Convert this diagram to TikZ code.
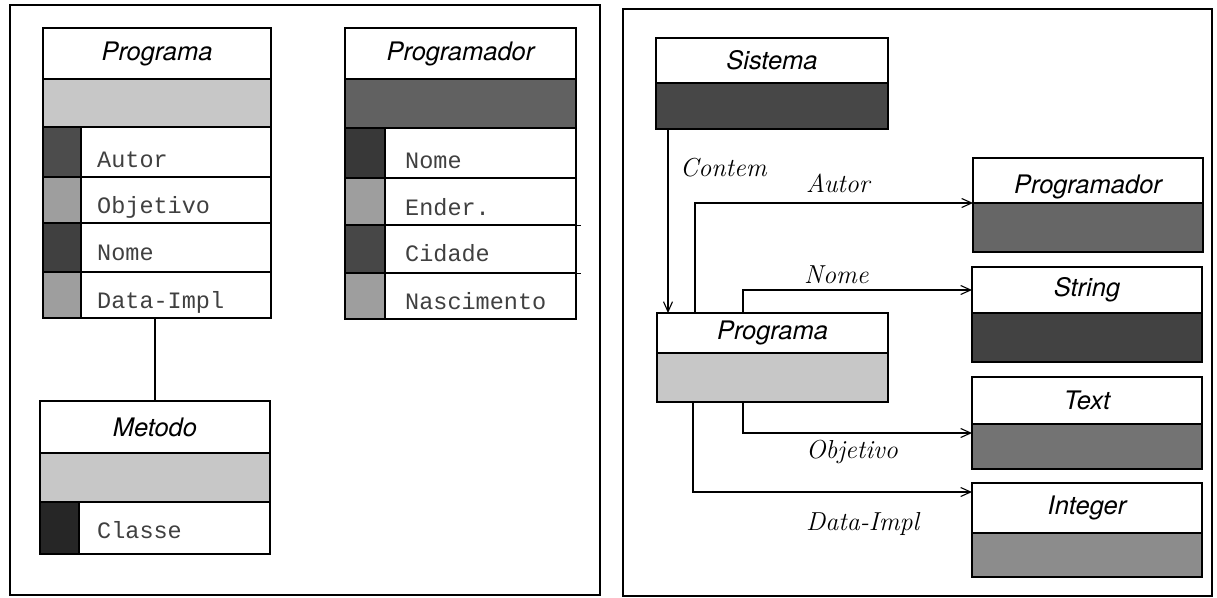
\documentclass[tikz,border=0pt]{standalone}
\usepackage{fontspec}
\newfontfamily\titlefont{TeX Gyre Heros}
\newfontfamily\fieldfont{Liberation Mono}
\usetikzlibrary{arrows.meta}

\tikzset{
  part/.style={draw, line width=1.6pt, anchor=north west, inner sep=0pt, outer sep=0pt},
  ctitle/.style={part, fill=white, font=\titlefont\itshape\fontsize{25.5}{25.5}\selectfont},
  band/.style={part, fill=#1},
  swatch/.style={part, fill=#1},
  field/.style={part, fill=white},
  fieldtext/.style={anchor=base west, inner sep=0pt, text=black!75,
    font=\fieldfont\fontsize{23.5}{23.5}\selectfont},
  rel/.style={anchor=base west, inner sep=0pt, font=\itshape\fontsize{26}{26}\selectfont},
  arr/.style={line width=1.1pt, -{Straight Barb[length=10pt,width=9pt,line width=1.1pt]}},
  link/.style={line width=1.1pt},
  panel/.style={line width=1.2pt},
}

\begin{document}
\begin{tikzpicture}[x=1pt, y=-1pt]
\useasboundingbox (0,0) rectangle (1217,597);

% ---------- left panel: class schemas ----------
\draw[panel] (10,5) rectangle (600,595);

% Programa
\node[ctitle, minimum width=228pt, minimum height=51pt] (plT) at (43,28) {Programa};
\node[band=black!22, minimum width=228pt, minimum height=48pt] (plB) at (43,79) {};
\node[swatch=black!70, minimum width=38pt, minimum height=50pt] (plS1) at (43,127) {};
\node[field, minimum width=190pt, minimum height=50pt] (plF1) at (81,127) {};
\node[fieldtext] at ([xshift=16pt,yshift=10pt]plF1.south west) {Autor};
\node[swatch=black!38, minimum width=38pt, minimum height=46pt] (plS2) at (43,177) {};
\node[field, minimum width=190pt, minimum height=46pt] (plF2) at (81,177) {};
\node[fieldtext] at ([xshift=16pt,yshift=10pt]plF2.south west) {Objetivo};
\node[swatch=black!75, minimum width=38pt, minimum height=49pt] (plS3) at (43,223) {};
\node[field, minimum width=190pt, minimum height=49pt] (plF3) at (81,223) {};
\node[fieldtext] at ([xshift=16pt,yshift=12pt]plF3.south west) {Nome};
\node[swatch=black!38, minimum width=38pt, minimum height=46pt] (plS4) at (43,272) {};
\node[field, minimum width=190pt, minimum height=46pt] (plF4) at (81,272) {};
\node[fieldtext] at ([xshift=16pt,yshift=10pt]plF4.south west) {Data-Impl};

% Programador
\node[ctitle, minimum width=231pt, minimum height=51pt] (pdT) at (345,28) {Programador};
\node[band=black!62, minimum width=231pt, minimum height=49pt] (pdB) at (345,79) {};
\node[swatch=black!78, minimum width=40pt, minimum height=50pt] (pdS1) at (345,128) {};
\node[field, minimum width=191pt, minimum height=50pt] (pdF1) at (385,128) {};
\node[fieldtext] at ([xshift=20pt,yshift=10pt]pdF1.south west) {Nome};
\node[swatch=black!38, minimum width=40pt, minimum height=47pt] (pdS2) at (345,178) {};
\node[field, minimum width=191pt, minimum height=47pt] (pdF2) at (385,178) {};
\node[fieldtext] at ([xshift=20pt,yshift=10pt]pdF2.south west) {Ender.};
\node[swatch=black!72, minimum width=40pt, minimum height=48pt] (pdS3) at (345,225) {};
\node[field, minimum width=191pt, minimum height=48pt] (pdF3) at (385,225) {};
\node[fieldtext] at ([xshift=20pt,yshift=12pt]pdF3.south west) {Cidade};
\node[swatch=black!38, minimum width=40pt, minimum height=46pt] (pdS4) at (345,273) {};
\node[field, minimum width=191pt, minimum height=46pt] (pdF4) at (385,273) {};
\node[fieldtext] at ([xshift=20pt,yshift=10pt]pdF4.south west) {Nascimento};
% row rules running slightly past the right edge
\draw[line width=1pt] (pdF2.south east) -- ++(5,0);
\draw[line width=1pt] (pdF3.south east) -- ++(5,0);

% Metodo
\node[ctitle, minimum width=230pt, minimum height=52pt] (mtT) at (40,401) {Metodo};
\node[band=black!22, minimum width=230pt, minimum height=49pt] (mtB) at (40,453) {};
\node[swatch=black!85, minimum width=39pt, minimum height=52pt] (mtS1) at (40,502) {};
\node[field, minimum width=191pt, minimum height=52pt] (mtF1) at (79,502) {};
\node[fieldtext] at ([xshift=18pt,yshift=16pt]mtF1.south west) {Classe};

\draw[link] (mtT.north) -- (mtT.north |- plF4.south);

% ---------- right panel: relationships ----------
\draw[panel] (623,9) rectangle (1212,596);

% Sistema
\node[ctitle, minimum width=232pt, minimum height=45pt] (sisT) at (656,38) {Sistema};
\node[band=black!72, minimum width=232pt, minimum height=46pt] (sisB) at (656,83) {};

% Programa
\node[ctitle, minimum width=231pt, minimum height=40pt] (prT) at (657,313) {Programa};
\node[band=black!22, minimum width=231pt, minimum height=49pt] (prB) at (657,353) {};

% Programador
\node[ctitle, minimum width=230pt, minimum height=45pt, text depth=2pt, text height=27pt] (rpT) at (973,158) {Programador};
\node[band=black!60, minimum width=230pt, minimum height=49pt] (rpB) at (973,203) {};

% String
\node[ctitle, minimum width=230pt, minimum height=46pt] (stT) at (972,267) {String};
\node[band=black!74, minimum width=230pt, minimum height=49pt] (stB) at (972,313) {};

% Text
\node[ctitle, minimum width=230pt, minimum height=47pt] (txT) at (972,377) {Text};
\node[band=black!55, minimum width=230pt, minimum height=45pt] (txB) at (972,424) {};

% Integer
\node[ctitle, minimum width=230pt, minimum height=50pt] (inT) at (972,483) {Integer};
\node[band=black!45, minimum width=230pt, minimum height=44pt] (inB) at (972,533) {};

% connectors
\draw[arr] ([xshift=12pt]sisB.south west) -- ([xshift=11pt]prT.north west);
\draw[arr] ([xshift=38pt]prT.north west) |- (rpB.north west);
\draw[arr] ([xshift=86pt]prT.north west) |- (stT.west);
\draw[arr] ([xshift=86pt]prB.south west) |- ([yshift=-9pt]txB.north west);
\draw[arr] ([xshift=36pt]prB.south west) |- ([yshift=-9pt]inT.north west);

% connector labels
\node[rel] (lContem) at (680,176) {Contem};
\node[rel] (lAutor) at (806,192) {Autor};
\node[rel] (lNome) at (804,283) {Nome};
\node[rel] (lObjetivo) at (806,458) {Objetivo};
\node[rel] (lData) at (806,530) {Data-Impl};

\end{tikzpicture}
\end{document}
